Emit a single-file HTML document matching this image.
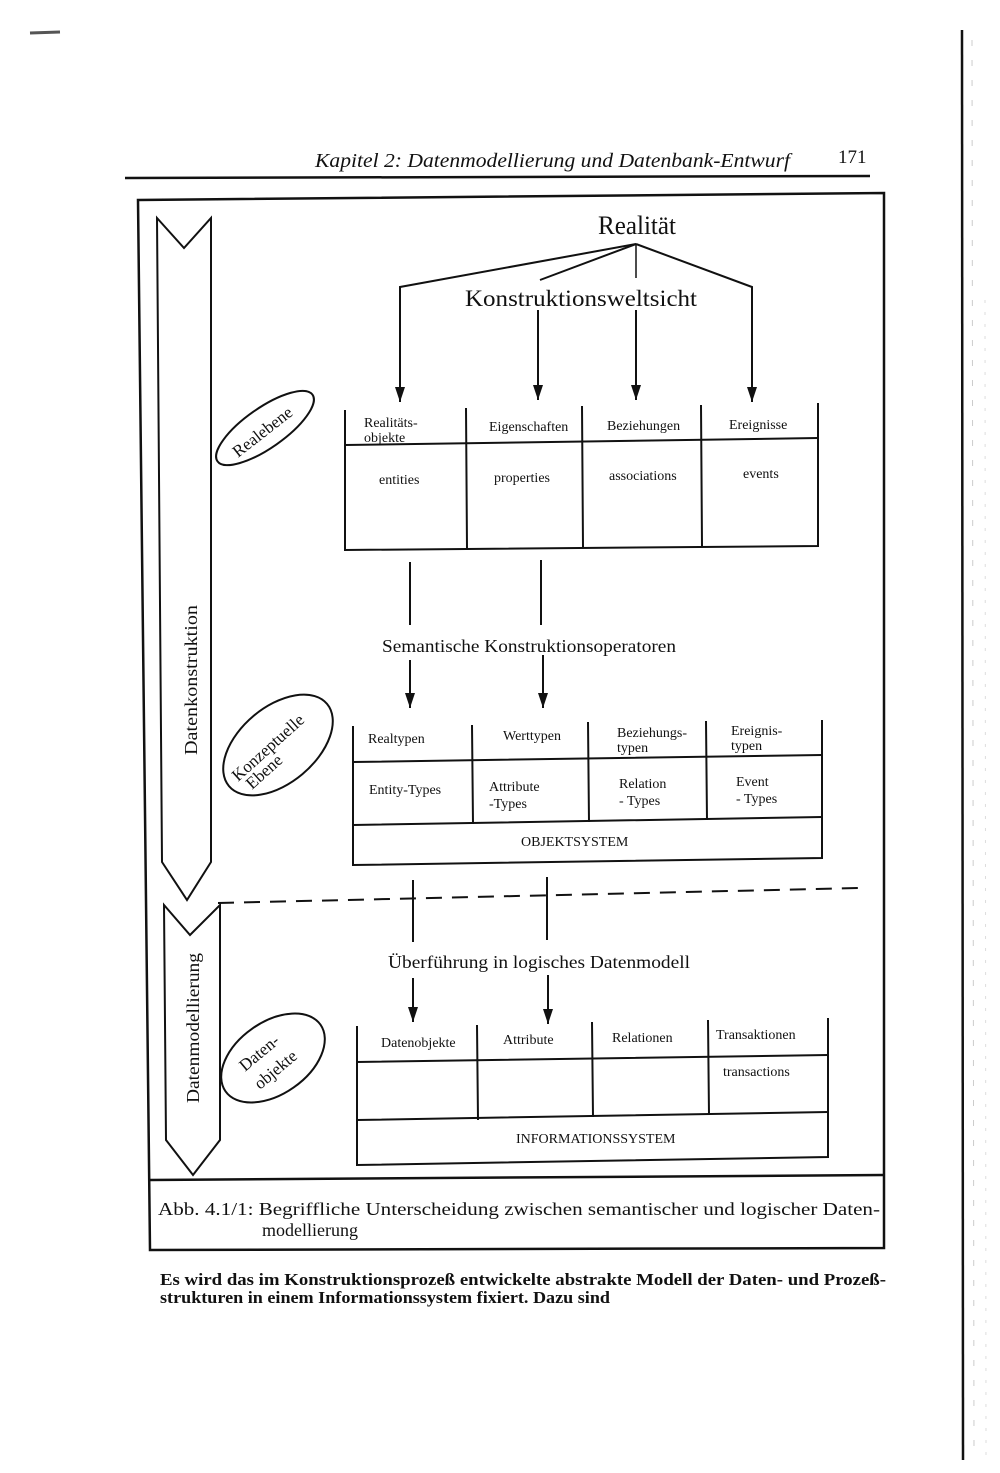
<!DOCTYPE html>
<html><head><meta charset="utf-8"><style>
html,body{margin:0;padding:0;background:#fff;}
svg{display:block;}
text{font-family:"Liberation Serif",serif;fill:#111;}
</style></head><body>
<svg width="1000" height="1473" viewBox="0 0 1000 1473" xmlns="http://www.w3.org/2000/svg">
<defs><marker id="ah" markerWidth="16" markerHeight="12" refX="15" refY="5" orient="auto" markerUnits="userSpaceOnUse"><path d="M0,0 L15,5 L0,10 Z" fill="#111"/></marker></defs>
<g stroke="#111" fill="none">
<path d="M30,33 L60,32" stroke-width="3" stroke="#555"/>
<path d="M962,30 L963,1460" stroke-width="2.5"/>
<path d="M972,40 L974,1460" stroke-width="1" stroke="#ccc" stroke-dasharray="6,14"/>
<path d="M985,300 L986,1460" stroke-width="1" stroke="#ddd" stroke-dasharray="3,9"/>
<path d="M125,178 L870,176" stroke-width="2.5"/>
<path d="M138,200 L884,193 L884,1248 L150,1250 Z" stroke-width="2.5"/>
<path d="M150,1180 L884,1175" stroke-width="2.5"/>
<path d="M157,218 L184,248 L211,218 L211,862 L187,900 L162,862 Z" stroke-width="2"/>
<path d="M164,905 L190,935 L220,905 L220,1140 L193,1175 L166,1140 Z" stroke-width="2"/>
<ellipse cx="265" cy="428" rx="58" ry="20" transform="rotate(-35 265 428)" stroke-width="2"/>
<ellipse cx="278" cy="745" rx="64" ry="38" transform="rotate(-40 278 745)" stroke-width="2"/>
<ellipse cx="273" cy="1058" rx="58" ry="36" transform="rotate(-35 273 1058)" stroke-width="2"/>
<path d="M636,244 L400,287 L400,402" stroke-width="2" marker-end="url(#ah)"/>
<path d="M636,244 L540,280" stroke-width="2"/>
<path d="M636,244 L636,278" stroke-width="1.5"/>
<path d="M636,244 L752,287 L752,402" stroke-width="2" marker-end="url(#ah)"/>
<path d="M538,310 L538,400" stroke-width="2" marker-end="url(#ah)"/>
<path d="M636,310 L636,400" stroke-width="2" marker-end="url(#ah)"/>
<path d="M345,410 L345,550 L818,546 L818,403" stroke-width="2"/>
<path d="M345,445 L818,438" stroke-width="2"/>
<path d="M466,408 L467,548 M582,406 L583,547 M701,405 L702,546" stroke-width="2"/>
<path d="M410,562 L410,625 M541,560 L541,625" stroke-width="2"/>
<path d="M410,660 L410,708" stroke-width="2" marker-end="url(#ah)"/>
<path d="M543,655 L543,708" stroke-width="2" marker-end="url(#ah)"/>
<path d="M353,726 L353,865 L822,858 L822,720" stroke-width="2"/>
<path d="M353,762 L822,755 M353,825 L822,817" stroke-width="2"/>
<path d="M472,725 L473,824 M588,722 L589,822 M706,721 L707,820" stroke-width="2"/>
<path d="M218,903 L858,888" stroke-width="2" stroke-dasharray="16,10"/>
<path d="M413,880 L413,942 M547,877 L547,940" stroke-width="2"/>
<path d="M413,978 L413,1022" stroke-width="2" marker-end="url(#ah)"/>
<path d="M548,975 L548,1024" stroke-width="2" marker-end="url(#ah)"/>
<path d="M357,1026 L357,1165 L828,1157 L828,1018" stroke-width="2"/>
<path d="M357,1062 L828,1055 M357,1120 L828,1112" stroke-width="2"/>
<path d="M477,1025 L478,1120 M592,1022 L593,1117 M708,1020 L709,1115" stroke-width="2"/>
</g>
<text x="315" y="167" font-size="20" font-style="italic" textLength="475" lengthAdjust="spacingAndGlyphs">Kapitel 2: Datenmodellierung und Datenbank-Entwurf</text>
<text x="838" y="163" font-size="19">171</text>
<text x="598" y="234" font-size="26" textLength="78" lengthAdjust="spacingAndGlyphs">Realität</text>
<text x="465" y="306" font-size="23" textLength="232" lengthAdjust="spacingAndGlyphs">Konstruktionsweltsicht</text>
<text x="0" y="0" font-size="18" transform="translate(197,755) rotate(-90)" textLength="150" lengthAdjust="spacingAndGlyphs">Datenkonstruktion</text>
<text x="0" y="0" font-size="18" transform="translate(199,1103) rotate(-90)" textLength="150" lengthAdjust="spacingAndGlyphs">Datenmodellierung</text>
<text x="0" y="0" font-size="17" transform="translate(238,458) rotate(-38)">Realebene</text>
<text x="0" y="0" font-size="17" transform="translate(238,782) rotate(-42)">Konzeptuelle</text>
<text x="0" y="0" font-size="17" transform="translate(252,790) rotate(-42)">Ebene</text>
<text x="0" y="0" font-size="17" transform="translate(245,1072) rotate(-40)">Daten-</text>
<text x="0" y="0" font-size="17" transform="translate(260,1090) rotate(-40)">objekte</text>
<g font-size="14">
<text x="364" y="427">Realitäts-</text><text x="364" y="442">objekte</text>
<text x="489" y="431">Eigenschaften</text>
<text x="607" y="430">Beziehungen</text>
<text x="729" y="429">Ereignisse</text>
<text x="379" y="484">entities</text>
<text x="494" y="482">properties</text>
<text x="609" y="480">associations</text>
<text x="743" y="478">events</text>
<text x="368" y="743">Realtypen</text>
<text x="503" y="740">Werttypen</text>
<text x="617" y="737">Beziehungs-</text><text x="617" y="752">typen</text>
<text x="731" y="735">Ereignis-</text><text x="731" y="750">typen</text>
<text x="369" y="794">Entity-Types</text>
<text x="489" y="791">Attribute</text><text x="489" y="808">-Types</text>
<text x="619" y="788">Relation</text><text x="619" y="805">- Types</text>
<text x="736" y="786">Event</text><text x="736" y="803">- Types</text>
<text x="521" y="846">OBJEKTSYSTEM</text>
<text x="381" y="1047">Datenobjekte</text>
<text x="503" y="1044">Attribute</text>
<text x="612" y="1042">Relationen</text>
<text x="716" y="1039">Transaktionen</text>
<text x="723" y="1076">transactions</text>
<text x="516" y="1143">INFORMATIONSSYSTEM</text>
</g>
<text x="382" y="652" font-size="18" textLength="294" lengthAdjust="spacingAndGlyphs">Semantische Konstruktionsoperatoren</text>
<text x="388" y="968" font-size="18" textLength="302" lengthAdjust="spacingAndGlyphs">Überführung in logisches Datenmodell</text>
<text x="158" y="1215" font-size="18" textLength="722" lengthAdjust="spacingAndGlyphs">Abb. 4.1/1: Begriffliche Unterscheidung zwischen semantischer und logischer Daten-</text>
<text x="262" y="1236" font-size="18">modellierung</text>
<text x="160" y="1285" font-size="17" font-weight="bold" textLength="726" lengthAdjust="spacingAndGlyphs">Es wird das im Konstruktionsprozeß entwickelte abstrakte Modell der Daten- und Prozeß-</text>
<text x="160" y="1303" font-size="17" font-weight="bold" textLength="450" lengthAdjust="spacingAndGlyphs">strukturen in einem Informationssystem fixiert. Dazu sind</text>
</svg>
</body></html>
